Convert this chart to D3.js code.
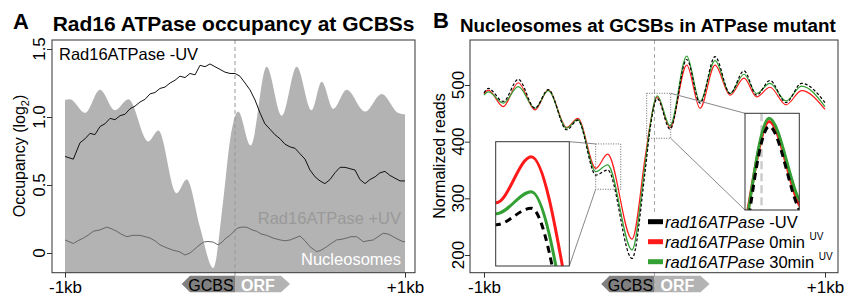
<!DOCTYPE html>
<html>
<head>
<meta charset="utf-8">
<script src="https://cdn.jsdelivr.net/npm/d3@7"></script>
<style>
body { margin: 0; background: #fff; }
svg { font-family: "Liberation Sans", Arial, sans-serif; }
</style>
</head>
<body>
<svg width="844" height="296"></svg>
<script>
// ---- panel A: Rad16 ATPase occupancy (log2) ----
var nucBp  = [-1000, -971, -882, -794, -706, -627, -510, -451, -343, -284, -206, -128, -69, -29, 19, 92, 186, 275, 363, 451, 510, 578, 657, 765, 863, 961, 1000];
var nucVal = [1.125, 1.13, 1.03, 1.20, 1.05, 1.13, 0.82, 0.90, 0.44, 0.54, 0.19, -0.11, 0.39, 0.83, 1.04, 0.79, 1.37, 1.01, 1.37, 1.05, 1.26, 1.06, 1.20, 1.04, 1.17, 1.03, 1.02];

var minusBp  = [-1000, -951, -912, -882, -853, -824, -794, -765, -735, -706, -676, -647, -618, -588, -559, -529, -500, -471, -441, -412, -382, -353, -324, -294, -265, -235, -206, -176, -147, -118, -88, -59, -29, 0, 29, 59, 88, 118, 147, 176, 206, 235, 265, 294, 324, 353, 382, 412, 441, 471, 500, 529, 559, 588, 618, 647, 676, 706, 735, 765, 794, 824, 853, 882, 912, 941, 971, 1000];
var minusVal = [0.71, 0.69, 0.81, 0.84, 0.88, 0.87, 0.93, 0.95, 0.99, 0.98, 1.01, 1.02, 1.06, 1.08, 1.11, 1.13, 1.17, 1.18, 1.21, 1.22, 1.25, 1.27, 1.30, 1.29, 1.32, 1.31, 1.38, 1.37, 1.39, 1.37, 1.35, 1.33, 1.32, 1.32, 1.30, 1.25, 1.20, 1.125, 1.03, 0.95, 0.91, 0.87, 0.84, 0.80, 0.78, 0.77, 0.73, 0.69, 0.61, 0.56, 0.53, 0.51, 0.54, 0.59, 0.63, 0.63, 0.62, 0.61, 0.54, 0.51, 0.54, 0.56, 0.59, 0.60, 0.57, 0.55, 0.53, 0.53];

var plusBp  = [-1000, -971, -951, -924, -892, -865, -833, -794, -755, -729, -696, -671, -637, -600, -559, -529, -500, -471, -441, -406, -363, -329, -294, -265, -245, -218, -186, -159, -128, -100, -76, -53, -29, 10, 35, 69, 100, 128, 153, 186, 224, 265, 294, 324, 353, 382, 412, 441, 480, 506, 539, 565, 598, 624, 657, 682, 716, 755, 782, 814, 841, 872, 900, 931, 959, 990, 1000];
var plusVal = [0.096, 0.08, 0.07, 0.09, 0.11, 0.13, 0.16, 0.17, 0.19, 0.18, 0.16, 0.14, 0.12, 0.13, 0.13, 0.12, 0.11, 0.09, 0.06, 0.04, 0.02, 0.01, -0.015, 0.0, 0.02, 0.05, 0.08, 0.085, 0.08, 0.06, 0.08, 0.11, 0.13, 0.18, 0.19, 0.19, 0.17, 0.16, 0.14, 0.13, 0.11, 0.096, 0.09, 0.096, 0.11, 0.125, 0.09, 0.046, 0.01, 0.02, 0.046, 0.07, 0.096, 0.10, 0.11, 0.12, 0.12, 0.083, 0.09, 0.096, 0.12, 0.145, 0.14, 0.12, 0.10, 0.083, 0.085];

var ticksA = [0, 0.5, 1, 1.5];

// ---- panel B: normalized nucleosome reads ----
var bpB    = [-1000, -975, -887, -799, -701, -623, -515, -450, -344, -275, -132, -56, -27, 16, 91, 189, 267, 355, 443, 525, 599, 677, 771, 863, 1000];
var blackB = [486, 494, 471, 510, 459, 492, 421, 438, 341, 350, 194, 345, 420, 476, 422, 545, 468, 550, 485, 525, 482, 508, 469, 503, 469];
var redB   = [484, 491, 462, 504, 456, 491, 425, 441, 353, 378, 228, 370, 428, 479, 425, 535, 459, 535, 482, 512, 479, 496, 465, 490, 457];
var greenB = [482, 488, 468, 497, 459, 490, 424, 439, 347, 359, 209, 358, 426, 481, 428, 551, 471, 543, 485, 519, 485, 503, 472, 498, 462];

var ticksB = [200, 300, 400, 500];
var xTicks = [-1000, 1000];
var xTickLabels = ["-1kb", "+1kb"];

var svg = d3.select("svg");
var defs = svg.append("defs");

function addClip(id, x, y, w, h) {
  defs.append("clipPath").attr("id", id)
    .append("rect").attr("x", x).attr("y", y).attr("width", w).attr("height", h);
}

function pts(bp, val) {
  return bp.map(function(d, i) { return [d, val[i]]; });
}

// layout
var boxTop = 40, boxBot = 272.7;
var A = { left: 52, right: 415 };
var B = { left: 470, right: 838 };

/////////////////////////////////////////////////////////////// panel A
var xA = d3.scaleLinear().domain([-1000, 1000]).range([65, 405]);
var yA = d3.scaleLinear().domain([0, 1.5]).range([253, 49]);

addClip("clipA", A.left, boxTop, A.right - A.left, boxBot - boxTop);
var gA = svg.append("g").attr("clip-path", "url(#clipA)");

var nucArea = d3.area()
  .x(function(d) { return xA(d[0]); })
  .y0(boxBot)
  .y1(function(d) { return yA(d[1]); })
  .curve(d3.curveMonotoneX);

gA.append("path")
  .datum(pts(nucBp, nucVal))
  .attr("d", nucArea)
  .attr("fill", "#b3b3b3");

var lineA = d3.line()
  .x(function(d) { return xA(d[0]); })
  .y(function(d) { return yA(d[1]); });

gA.append("line")
  .attr("x1", xA(0)).attr("x2", xA(0))
  .attr("y1", boxTop).attr("y2", boxBot)
  .attr("stroke", "#999").attr("stroke-dasharray", "4,3");

gA.append("path")
  .datum(pts(plusBp, plusVal))
  .attr("d", lineA)
  .attr("fill", "none").attr("stroke", "#666").attr("stroke-width", 1);

gA.append("path")
  .datum(pts(minusBp, minusVal))
  .attr("d", lineA)
  .attr("fill", "none").attr("stroke", "#111").attr("stroke-width", 1);

svg.append("line")
  .attr("x1", xA(0)).attr("x2", xA(0))
  .attr("y1", boxBot).attr("y2", 292)
  .attr("stroke", "#999").attr("stroke-dasharray", "4,3");

svg.append("rect")
  .attr("x", A.left).attr("y", boxTop)
  .attr("width", A.right - A.left).attr("height", boxBot - boxTop)
  .attr("fill", "none").attr("stroke", "#333");

// labels inside A
svg.append("text").attr("x", 59).attr("y", 60)
  .attr("font-size", 16.5).attr("fill", "#000").text("Rad16ATPase -UV");
svg.append("text").attr("x", 401).attr("y", 223.5).attr("text-anchor", "end")
  .attr("font-size", 16.5).attr("fill", "#999").text("Rad16ATPase +UV");
svg.append("text").attr("x", 401).attr("y", 265).attr("text-anchor", "end")
  .attr("font-size", 16.5).attr("fill", "#fff").text("Nucleosomes");

/////////////////////////////////////////////////////////////// panel B
var xB = d3.scaleLinear().domain([-1000, 1000]).range([484, 825]);
var yB = d3.scaleLinear().domain([200, 500]).range([255, 85]);

addClip("clipB", B.left, boxTop, B.right - B.left, boxBot - boxTop);
var gB = svg.append("g").attr("clip-path", "url(#clipB)");

gB.append("line")
  .attr("x1", xB(0)).attr("x2", xB(0))
  .attr("y1", boxTop).attr("y2", boxBot)
  .attr("stroke", "#aaa").attr("stroke-dasharray", "4,3");

var series = [
  { val: redB,   color: "#ff1a1a", dash: null },
  { val: greenB, color: "#33a033", dash: null },
  { val: blackB, color: "#000",    dash: true }
];

function drawCurves(g, x, y, w, dash) {
  var ln = d3.line()
    .x(function(d) { return x(d[0]); })
    .y(function(d) { return y(d[1]); })
    .curve(d3.curveMonotoneX);
  series.forEach(function(s) {
    g.append("path")
      .datum(pts(bpB, s.val))
      .attr("d", ln)
      .attr("fill", "none")
      .attr("stroke", s.color)
      .attr("stroke-width", w)
      .attr("stroke-dasharray", s.dash ? dash : null);
  });
}
drawCurves(gB, xB, yB, 1.2, "3,2");

// zoom windows (data units) and their inset boxes
var zooms = [
  { sel: { x0: -345, x1: -198, y0: 316, y1: 396 },
    win: { x0: -345, x1: -200, y0: 318.6, y1: 386.2 },
    box: { x: 495.7, y: 141.7, w: 73.6, h: 124.3 }, side: "left" },
  { sel: { x0: -46, x1: 95, y0: 406, y1: 485.4 },
    win: { x0: -35, x1: 80, y0: 425, y1: 484 },
    box: { x: 745, y: 113.3, w: 54.3, h: 96.7 }, side: "right" }
];

zooms.forEach(function(z, i) {
  var sx0 = xB(z.sel.x0), sx1 = xB(z.sel.x1), sy0 = yB(z.sel.y1), sy1 = yB(z.sel.y0);
  svg.append("rect")
    .attr("x", sx0).attr("y", sy0).attr("width", sx1 - sx0).attr("height", sy1 - sy0)
    .attr("fill", "none").attr("stroke", "#444").attr("stroke-width", 0.8)
    .attr("stroke-dasharray", "1,1.5");
  var b = z.box;
  var links = z.side === "left"
    ? [[b.x + b.w, b.y, sx0, sy0], [b.x + b.w, b.y + b.h, sx0, sy1]]
    : [[sx1, sy0, b.x, b.y], [sx1, sy1, b.x, b.y + b.h]];
  links.forEach(function(l) {
    svg.append("line")
      .attr("x1", l[0]).attr("y1", l[1]).attr("x2", l[2]).attr("y2", l[3])
      .attr("stroke", "#888").attr("stroke-width", 1);
  });
  svg.append("rect")
    .attr("x", b.x).attr("y", b.y).attr("width", b.w).attr("height", b.h)
    .attr("fill", "#fff");
  addClip("clipZ" + i, b.x, b.y, b.w, b.h);
  var gz = svg.append("g").attr("clip-path", "url(#clipZ" + i + ")");
  var zx = d3.scaleLinear().domain([z.win.x0, z.win.x1]).range([b.x, b.x + b.w]);
  var zy = d3.scaleLinear().domain([z.win.y0, z.win.y1]).range([b.y + b.h, b.y]);
  if (z.win.x0 < 0 && z.win.x1 > 0) {
    gz.append("line")
      .attr("x1", zx(0)).attr("x2", zx(0)).attr("y1", b.y).attr("y2", b.y + b.h)
      .attr("stroke", "#ccc").attr("stroke-width", 2.5).attr("stroke-dasharray", "8,4");
  }
  drawCurves(gz, zx, zy, 3, "7,5");
  svg.append("rect")
    .attr("x", b.x).attr("y", b.y).attr("width", b.w).attr("height", b.h)
    .attr("fill", "none").attr("stroke", "#333");
});

// legend
var legendItems = [
  { color: "#000", pre: "rad16ATPase", post: " -UV", sup: "" },
  { color: "#ff1a1a", pre: "rad16ATPase", post: " 0min ", sup: "UV" },
  { color: "#33a033", pre: "rad16ATPase", post: " 30min ", sup: "UV" }
];
svg.append("rect").attr("x", 645).attr("y", 212).attr("width", 192).attr("height", 60).attr("fill", "#fff");
var lg = svg.selectAll(".lg").data(legendItems).enter().append("g")
  .attr("transform", function(d, i) { return "translate(648," + (221.7 + i * 20) + ")"; });
lg.append("line").attr("x1", 0).attr("x2", 15)
  .attr("stroke", function(d) { return d.color; }).attr("stroke-width", 5);
var lt = lg.append("text").attr("x", 17).attr("y", 6).attr("font-size", 16.5);
lt.append("tspan").attr("font-style", "italic").text(function(d) { return d.pre; });
lt.append("tspan").text(function(d) { return d.post; });
lt.append("tspan").attr("font-size", 10).attr("dy", -8).text(function(d) { return d.sup; });

svg.append("line")
  .attr("x1", xB(0)).attr("x2", xB(0))
  .attr("y1", boxBot).attr("y2", 292)
  .attr("stroke", "#aaa").attr("stroke-dasharray", "4,3");

svg.append("rect")
  .attr("x", B.left).attr("y", boxTop)
  .attr("width", B.right - B.left).attr("height", boxBot - boxTop)
  .attr("fill", "none").attr("stroke", "#333");

/////////////////////////////////////////////////////////////// axes
function yAxis(scale, ticks, x, fmt, labelX) {
  var g = svg.append("g").attr("transform", "translate(" + x + ",0)")
    .call(d3.axisLeft(scale).tickValues(ticks).tickSize(5).tickFormat(""));
  g.select(".domain").remove();
  g.selectAll("line").attr("stroke", "#333");
  svg.selectAll(null).data(ticks).enter().append("text")
    .attr("transform", function(d) { return "translate(" + labelX + "," + scale(d) + ") rotate(-90)"; })
    .attr("text-anchor", "middle").attr("font-size", 17)
    .text(fmt);
}
function xAxis(scale) {
  var g = svg.append("g").attr("transform", "translate(0," + boxBot + ")")
    .call(d3.axisBottom(scale).tickValues(xTicks).tickSize(5)
      .tickFormat(function(d, i) { return xTickLabels[i]; }));
  g.select(".domain").remove();
  g.selectAll("line").attr("stroke", "#333");
  g.selectAll("text").attr("font-size", 17).attr("fill", "#000")
    .attr("font-family", "Liberation Sans, Arial, sans-serif");
}
yAxis(yA, ticksA, A.left, function(d) { return d === 0 ? "0" : d3.format(".1f")(d); }, 45);
yAxis(yB, ticksB, B.left, function(d) { return d; }, 464);
xAxis(xA);
xAxis(xB);

// axis titles
var tA = svg.append("text").attr("transform", "translate(25,156) rotate(-90)")
  .attr("text-anchor", "middle").attr("font-size", 16);
tA.append("tspan").text("Occupancy (log");
tA.append("tspan").attr("font-size", 11).attr("dy", 4).text("2");
tA.append("tspan").attr("dy", -4).text(")");
svg.append("text").attr("transform", "translate(445,156) rotate(-90)")
  .attr("text-anchor", "middle").attr("font-size", 16).text("Normalized reads");

// GCBS / ORF arrows under each panel
function arrows(scale) {
  var c = scale(0), t = 275.7, m = 284, bt = 292.3;
  svg.append("path")
    .attr("d", "M" + (c - 53.3) + "," + m + "L" + (c - 45) + "," + t + "L" + c + "," + t +
      "L" + c + "," + bt + "L" + (c - 45) + "," + bt + "Z")
    .attr("fill", "#808080");
  svg.append("path")
    .attr("d", "M" + c + "," + t + "L" + (c + 46) + "," + t + "L" + (c + 55) + "," + m +
      "L" + (c + 46) + "," + bt + "L" + c + "," + bt + "Z")
    .attr("fill", "#b3b3b3");
  svg.append("text").attr("x", c - 24).attr("y", 290.5).attr("text-anchor", "middle")
    .attr("font-size", 16).attr("fill", "#000").text("GCBS");
  svg.append("text").attr("x", c + 23).attr("y", 290.5).attr("text-anchor", "middle")
    .attr("font-size", 16).attr("font-weight", "bold").attr("fill", "#fff").text("ORF");
}
arrows(xA);
arrows(xB);

// titles
svg.append("text").attr("x", 13).attr("y", 29).attr("font-size", 22).attr("font-weight", "bold").text("A");
svg.append("text").attr("x", 52.7).attr("y", 30.7).attr("font-size", 21).attr("font-weight", "bold")
  .text("Rad16 ATPase occupancy at GCBSs");
svg.append("text").attr("x", 433).attr("y", 28).attr("font-size", 22).attr("font-weight", "bold").text("B");
svg.append("text").attr("x", 460).attr("y", 31.7).attr("font-size", 18.8).attr("font-weight", "bold")
  .text("Nucleosomes at GCSBs in ATPase mutant");
</script>
</body>
</html>
